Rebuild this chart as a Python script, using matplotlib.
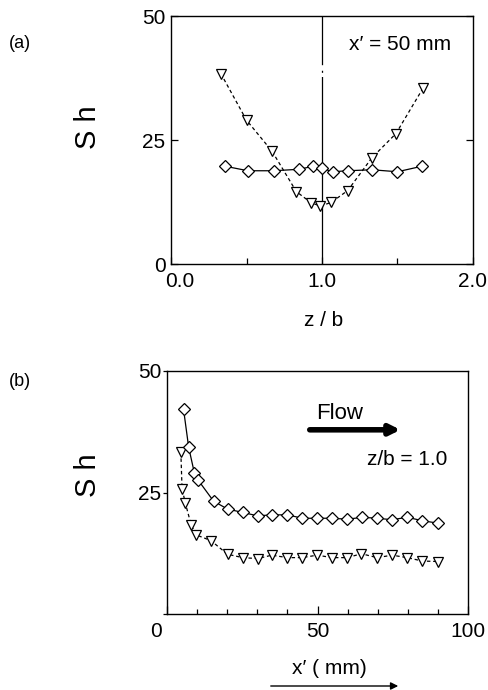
import matplotlib
matplotlib.use("Agg")
import matplotlib.pyplot as plt
import matplotlib.transforms as mtransforms
import numpy as np

plt.rcParams['font.family'] = ['Liberation Sans', 'DejaVu Sans']
plt.rcParams['lines.scale_dashes'] = False

# (a) Sh across span at x' = 50 mm
za_diamond = [0.36, 0.51, 0.68, 0.85, 0.94, 1.00, 1.07, 1.17, 1.33, 1.50, 1.66]
sh_diamond_a = [19.7, 18.8, 18.8, 19.1, 19.7, 19.3, 18.6, 18.8, 19.0, 18.6, 19.7]
za_tri = [0.33, 0.50, 0.67, 0.83, 0.93, 0.99, 1.06, 1.17, 1.33, 1.49, 1.67]
sh_tri_a = [38.4, 29.0, 22.7, 14.6, 12.3, 11.7, 12.4, 14.8, 21.4, 26.3, 35.5]

# (b) Sh along streamwise direction at z/b = 1.0
xb_diamond = [5.5, 7.2, 9.1, 10.4, 15.5, 20.1, 25.1, 30.1, 35.0, 40.0,
              45.0, 49.9, 54.9, 59.9, 64.9, 69.8, 74.8, 79.8, 84.8, 89.9]
sh_diamond_b = [42.1, 34.3, 29.0, 27.5, 23.2, 21.6, 20.9, 20.2, 20.4, 20.4,
                19.7, 19.7, 19.7, 19.5, 19.9, 19.7, 19.4, 19.9, 19.2, 18.7]
xb_tri = [4.6, 5.0, 6.1, 8.0, 9.6, 14.6, 20.1, 25.1, 30.1, 34.8, 40.0,
          44.8, 49.9, 54.9, 59.9, 64.6, 69.8, 74.8, 79.8, 84.8, 89.9]
sh_tri_b = [33.3, 25.8, 22.8, 18.4, 16.3, 15.1, 12.3, 11.6, 11.4, 12.1, 11.6,
            11.6, 12.1, 11.6, 11.6, 12.4, 11.6, 12.1, 11.6, 10.9, 10.8]

W, H = 488, 690
fig = plt.figure(figsize=(W / 100, H / 100), dpi=100)


def px(x, y):
    return x / W, 1 - y / H


def add_axes_px(x0, y0, x1, y1):
    return fig.add_axes([x0 / W, 1 - y1 / H, (x1 - x0) / W, (y1 - y0) / H])


def nudge(label, dx_px):
    # shift a tick label sideways by a few pixels
    off = mtransforms.ScaledTranslation(dx_px / 100, 0, fig.dpi_scale_trans)
    label.set_transform(label.get_transform() + off)


diamond_kw = dict(marker='D', markersize=6, markerfacecolor='white',
                  markeredgecolor='black', markeredgewidth=0.9,
                  color='black', linewidth=0.9)
tri_kw = dict(marker='v', markersize=7.5, markerfacecolor='white',
              markeredgecolor='black', markeredgewidth=0.9,
              color='black', linewidth=0.9, dashes=(2.5, 2))

# ---- panel (a) ----
ax1 = add_axes_px(171, 16, 473, 264)
ax1.plot(za_tri, sh_tri_a, **tri_kw)
ax1.plot(za_diamond, sh_diamond_a, **diamond_kw)
ax1.axvline(1.0, color='black', linewidth=0.9,
            dashes=(135, 3, 1.5, 4, 300, 1), zorder=0)
ax1.set_xlim(0, 2)
ax1.set_ylim(0, 50)
ax1.set_xticks([0, 1, 2])
ax1.set_xticklabels(['0.0', '1.0', '2.0'])
ax1.set_xticks([0.5, 1.5], minor=True)
ax1.set_yticks([0, 25, 50])
ax1.tick_params(direction='in', labelsize=15, length=5, width=0.9,
                right=True, labelright=False)
ax1.tick_params(axis='x', pad=6)
ax1.tick_params(axis='y', pad=4)
ax1.tick_params(which='minor', direction='in', length=4, width=0.9,
                right=False)
nudge(ax1.get_xticklabels()[0], 9)
ax1.text(0.59, 0.885, "x\u2032 = 50 mm", transform=ax1.transAxes,
         ha='left', va='center', fontsize=15)

# ---- panel (b) ----
ax2 = add_axes_px(167, 371, 468, 614)
ax2.plot(xb_tri, sh_tri_b, **tri_kw)
ax2.plot(xb_diamond, sh_diamond_b, **diamond_kw)
ax2.set_xlim(0, 100)
ax2.set_ylim(0, 50)
ax2.set_xticks([0, 50, 100])
ax2.set_xticks(np.arange(10, 100, 10), minor=True)
ax2.set_yticks([0, 25, 50])
ax2.set_yticklabels(['', '25', '50'])
ax2.tick_params(direction='in', labelsize=15, length=6, width=0.9)
ax2.tick_params(axis='x', pad=6)
ax2.tick_params(axis='y', direction='out', length=3, pad=1)
ax2.tick_params(which='minor', direction='in', length=3.5, width=0.9)
nudge(ax2.get_xticklabels()[0], -11)

for ax in (ax1, ax2):
    for sp in ax.spines.values():
        sp.set_linewidth(1.0)

# Flow arrow and labels in panel (b)
ax2.annotate('', xy=(78.5, 37.9), xytext=(46.5, 37.9),
             arrowprops=dict(arrowstyle='-|>', lw=4, color='black',
                             mutation_scale=15))
ax2.text(49.5, 41.2, 'Flow', ha='left', va='center', fontsize=16)
ax2.text(93, 31.7, 'z/b = 1.0', ha='right', va='center', fontsize=15)

# axis labels and panel tags
fig.text(*px(88, 127), 'S h', rotation=90, ha='center', va='center', fontsize=21)
fig.text(*px(88, 475), 'S h', rotation=90, ha='center', va='center', fontsize=21)
fig.text(*px(324, 321), 'z / b', ha='center', va='center', fontsize=15)
fig.text(*px(329, 669), "x\u2032 ( mm)", ha='center', va='center', fontsize=15)
fig.text(*px(20, 43), '(a)', ha='center', va='center', fontsize=13)
fig.text(*px(20, 382), '(b)', ha='center', va='center', fontsize=13)

# arrow under the x' label
fig.add_artist(matplotlib.patches.FancyArrowPatch(
    px(268, 686), px(401, 686), transform=fig.transFigure,
    arrowstyle='-|>', mutation_scale=11, lw=1.0, color='black'))

fig.savefig('out.png', dpi=100)
